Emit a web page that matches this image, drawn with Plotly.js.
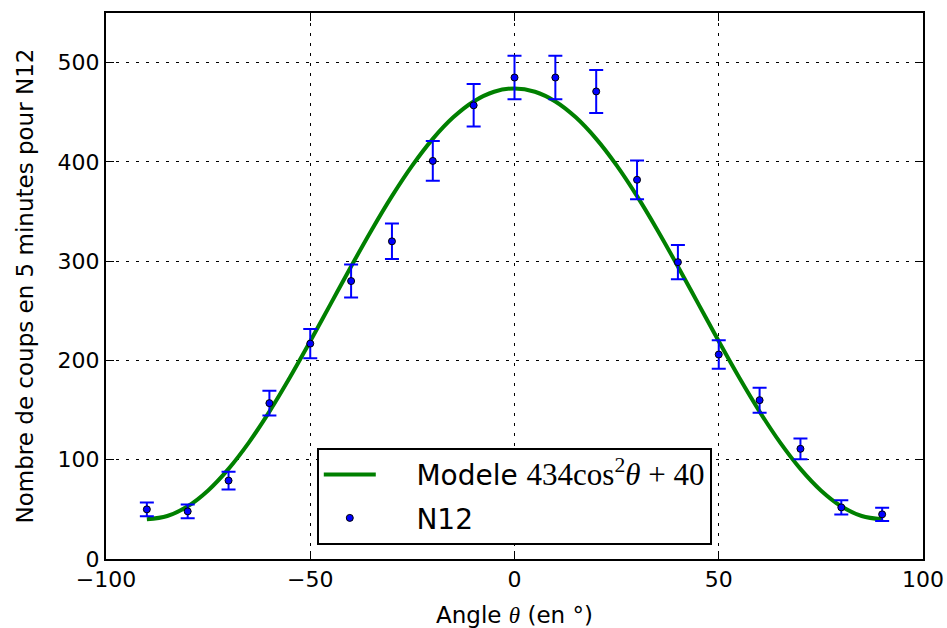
<!DOCTYPE html>
<html>
<head>
<meta charset="utf-8">
<script src="https://cdn.plot.ly/plotly-3.0.1.min.js"></script>
<style>html,body{margin:0;padding:0;background:#fff;}</style>
</head>
<body>
<div id="chart" style="width:947px;height:628px;"></div>
<script>
// Measured counts (N12) per angle, with error bars
var angles = [-90,-80,-70,-60,-50,-40,-30,-20,-10,0,10,20,30,40,50,60,70,80,90];
var counts = [50,48,79,157,217,280,320,401,457,485,485,471,382,299,206,160,111,52,45];
var errors = [7,7,9,12.5,14.7,16.7,17.9,20,21.4,22,22,21.7,19.5,17.3,14.4,12.6,10.5,7.2,6.7];

// Model curve (434 cos^2 θ + 40)
var modelAngles = [-90,-85,-80,-75,-70,-65,-60,-55,-50,-45,-40,-35,-30,-25,-20,-15,-10,-5,0,5,10,15,20,25,30,35,40,45,50,55,60,65,70,75,80,85,90];
var modelCounts = [40,43.3,53.1,69.1,90.8,117.5,148.5,182.8,219.3,257,294.7,331.2,365.5,396.5,423.2,444.9,460.9,470.7,474,470.7,460.9,444.9,423.2,396.5,365.5,331.2,294.7,257,219.3,182.8,148.5,117.5,90.8,69.1,53.1,43.3,40];

var xTicks = [-100,-50,0,50,100];
var yTicks = [0,100,200,300,400,500];

var font = 'DejaVu Sans, sans-serif';
var serif = 'Liberation Serif, DejaVu Serif, serif';
var pad = '\u00a0\u00a0\u00a0\u00a0';

var traces = [
  {
    x: modelAngles, y: modelCounts, type: 'scatter', mode: 'lines',
    line: {color: '#008000', width: 4, shape: 'spline'},
    legendgroup: 'model',
    name: pad + 'Modele <span style="font-family:' + serif + ';font-size:31px">434cos<sup>2</sup><i>θ</i> + 40</span>'
  },
  {
    x: angles, y: counts, type: 'scatter', mode: 'markers',
    marker: {color: '#0000ff', size: 7, line: {color: '#000000', width: 1}},
    error_y: {type: 'data', array: errors, visible: true, color: '#0000ff', thickness: 2, width: 7},
    legendgroup: 'data',
    name: pad + 'N12'
  }
];

var axisCommon = {
  showline: true, linecolor: '#000', linewidth: 2, mirror: 'allticks',
  ticks: 'inside', ticklen: 8, tickwidth: 1, tickcolor: '#000',
  showgrid: true, gridcolor: '#000', gridwidth: 1, griddash: '3px,7px',
  zeroline: false, automargin: false,
  tickfont: {family: font, size: 22, color: '#000'}
};

var layout = {
  width: 947, height: 628,
  margin: {l: 106, r: 24, t: 13, b: 69},
  paper_bgcolor: '#fff', plot_bgcolor: '#fff',
  showlegend: true,
  xaxis: Object.assign({}, axisCommon, {
    range: [-100, 100], tickvals: xTicks,
    title: {text: 'Angle <span style="font-family:' + serif + '"><i>θ</i></span> (en °)', font: {family: font, size: 23, color: '#000'}, standoff: 16}
  }),
  yaxis: Object.assign({}, axisCommon, {
    range: [0, 550], tickvals: yTicks,
    title: {text: 'Nombre de coups en 5 minutes pour N12', font: {family: font, size: 23, color: '#000'}, standoff: 18}
  }),
  legend: {
    x: 0.258, y: 0.026, xanchor: 'left', yanchor: 'bottom',
    bgcolor: '#fff', bordercolor: '#000', borderwidth: 2,
    font: {family: font, size: 28, color: '#000'},
    itemwidth: 52, tracegroupgap: 4
  }
};

Plotly.newPlot('chart', traces, layout, {displayModeBar: false, staticPlot: true});
</script>
</body>
</html>
